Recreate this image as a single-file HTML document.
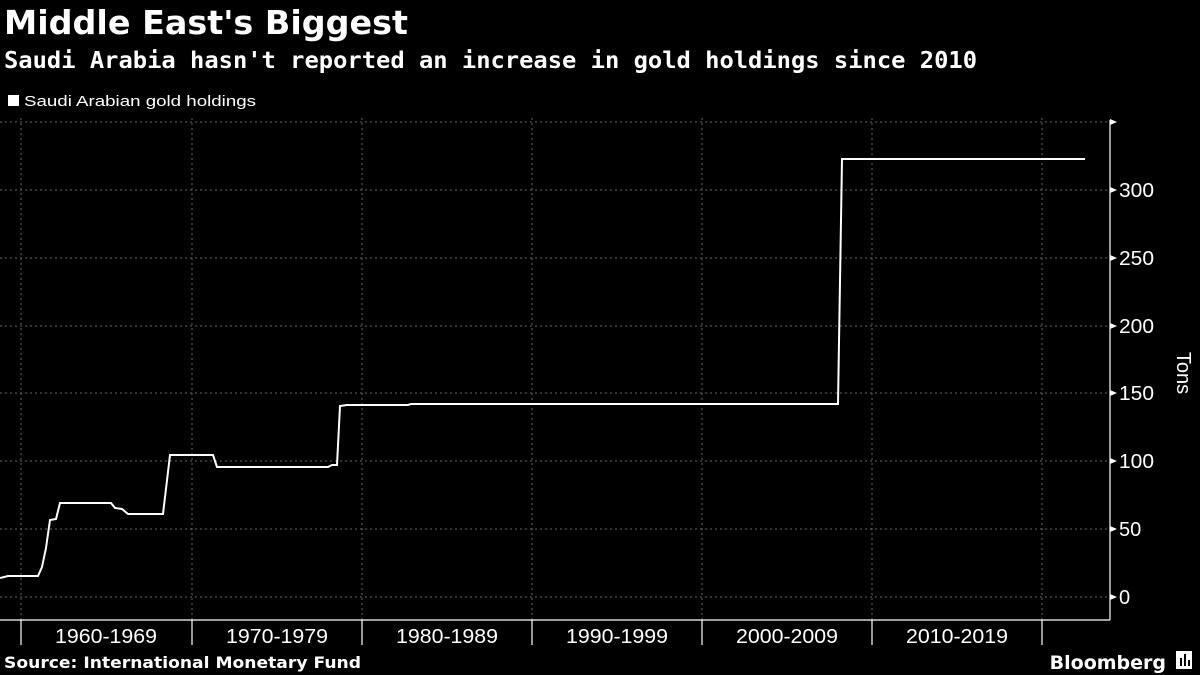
<!DOCTYPE html>
<html><head><meta charset="utf-8"><style>
html,body{margin:0;padding:0;background:#000;width:1200px;height:675px;overflow:hidden}
svg{display:block}
</style></head><body>
<svg width="1200" height="675" xmlns="http://www.w3.org/2000/svg" font-family="Liberation Sans, DejaVu Sans, sans-serif">
<rect width="1200" height="675" fill="#000"/>
<text x="4" y="34" fill="#fff" font-size="33" font-weight="bold" font-family="DejaVu Sans, sans-serif" textLength="404" lengthAdjust="spacingAndGlyphs">Middle East's Biggest</text>
<text x="4" y="68" fill="#fff" font-size="23" font-weight="bold" font-family="DejaVu Sans Mono, Liberation Mono, monospace" textLength="973" lengthAdjust="spacingAndGlyphs">Saudi Arabia hasn't reported an increase in gold holdings since 2010</text>
<rect x="8" y="95" width="11" height="11" fill="#fff"/>
<text x="24" y="106" fill="#fff" font-size="15" textLength="232" lengthAdjust="spacingAndGlyphs">Saudi Arabian gold holdings</text>
<g stroke="#666" stroke-width="1" stroke-dasharray="2,3">
<line x1="0" y1="122" x2="1110" y2="122"/>
<line x1="0" y1="190" x2="1110" y2="190"/>
<line x1="0" y1="258" x2="1110" y2="258"/>
<line x1="0" y1="326" x2="1110" y2="326"/>
<line x1="0" y1="393" x2="1110" y2="393"/>
<line x1="0" y1="461" x2="1110" y2="461"/>
<line x1="0" y1="529" x2="1110" y2="529"/>
<line x1="0" y1="597" x2="1110" y2="597"/>
<line x1="21" y1="118" x2="21" y2="620"/>
<line x1="192" y1="118" x2="192" y2="620"/>
<line x1="362" y1="118" x2="362" y2="620"/>
<line x1="532" y1="118" x2="532" y2="620"/>
<line x1="702" y1="118" x2="702" y2="620"/>
<line x1="872" y1="118" x2="872" y2="620"/>
<line x1="1042" y1="118" x2="1042" y2="620"/>
</g>
<g stroke="#fff" stroke-width="1.2">
<line x1="0" y1="620" x2="1110" y2="620"/>
<line x1="1110" y1="120" x2="1110" y2="620"/>
<line x1="21" y1="620" x2="21" y2="645"/>
<line x1="192" y1="620" x2="192" y2="645"/>
<line x1="362" y1="620" x2="362" y2="645"/>
<line x1="532" y1="620" x2="532" y2="645"/>
<line x1="702" y1="620" x2="702" y2="645"/>
<line x1="872" y1="620" x2="872" y2="645"/>
<line x1="1042" y1="620" x2="1042" y2="645"/>
</g>
<g fill="#fff">
<polygon points="1110,119 1117,122 1110,125"/>
<polygon points="1110,187 1117,190 1110,193"/>
<polygon points="1110,255 1117,258 1110,261"/>
<polygon points="1110,323 1117,326 1110,329"/>
<polygon points="1110,390 1117,393 1110,396"/>
<polygon points="1110,458 1117,461 1110,464"/>
<polygon points="1110,526 1117,529 1110,532"/>
<polygon points="1110,594 1117,597 1110,600"/>
</g>
<g fill="#fff" font-size="20">
<text x="1119" y="197" textLength="35" lengthAdjust="spacingAndGlyphs">300</text>
<text x="1119" y="265" textLength="35" lengthAdjust="spacingAndGlyphs">250</text>
<text x="1119" y="333" textLength="35" lengthAdjust="spacingAndGlyphs">200</text>
<text x="1119" y="400" textLength="35" lengthAdjust="spacingAndGlyphs">150</text>
<text x="1119" y="468" textLength="35" lengthAdjust="spacingAndGlyphs">100</text>
<text x="1119" y="536">50</text>
<text x="1119" y="604">0</text>
<text transform="translate(1177,373) rotate(90)" text-anchor="middle">Tons</text>
</g>
<g fill="#fff" font-size="20" text-anchor="middle">
<text x="106" y="643" textLength="102" lengthAdjust="spacingAndGlyphs">1960-1969</text>
<text x="277" y="643" textLength="102" lengthAdjust="spacingAndGlyphs">1970-1979</text>
<text x="447" y="643" textLength="102" lengthAdjust="spacingAndGlyphs">1980-1989</text>
<text x="617" y="643" textLength="102" lengthAdjust="spacingAndGlyphs">1990-1999</text>
<text x="787" y="643" textLength="102" lengthAdjust="spacingAndGlyphs">2000-2009</text>
<text x="957" y="643" textLength="102" lengthAdjust="spacingAndGlyphs">2010-2019</text>
</g>
<polyline fill="none" stroke="#fff" stroke-width="2" points="0,578 8,576 38,576 42,567 46,548 50,520 56,519 60,503 111,503 115,508 122,509 128,514 163,514 170,455 213,455 217,467 328,467 332,465 337,465 340,406 347,405 408,405 411,404 838,404 842,159 1085,159"/>
<text x="4" y="668" fill="#fff" font-size="16" font-weight="bold" font-family="DejaVu Sans, sans-serif" textLength="357" lengthAdjust="spacingAndGlyphs">Source: International Monetary Fund</text>
<text x="1166" y="669" fill="#fff" font-size="19" font-weight="bold" text-anchor="end" font-family="DejaVu Sans, sans-serif">Bloomberg</text>
<rect x="1176" y="651" width="16" height="18" fill="#fff"/>
<rect x="1180" y="658" width="2" height="8" fill="#000"/><rect x="1184" y="654" width="2" height="12" fill="#000"/><rect x="1188" y="660" width="2" height="6" fill="#000"/>
</svg>
</body></html>
